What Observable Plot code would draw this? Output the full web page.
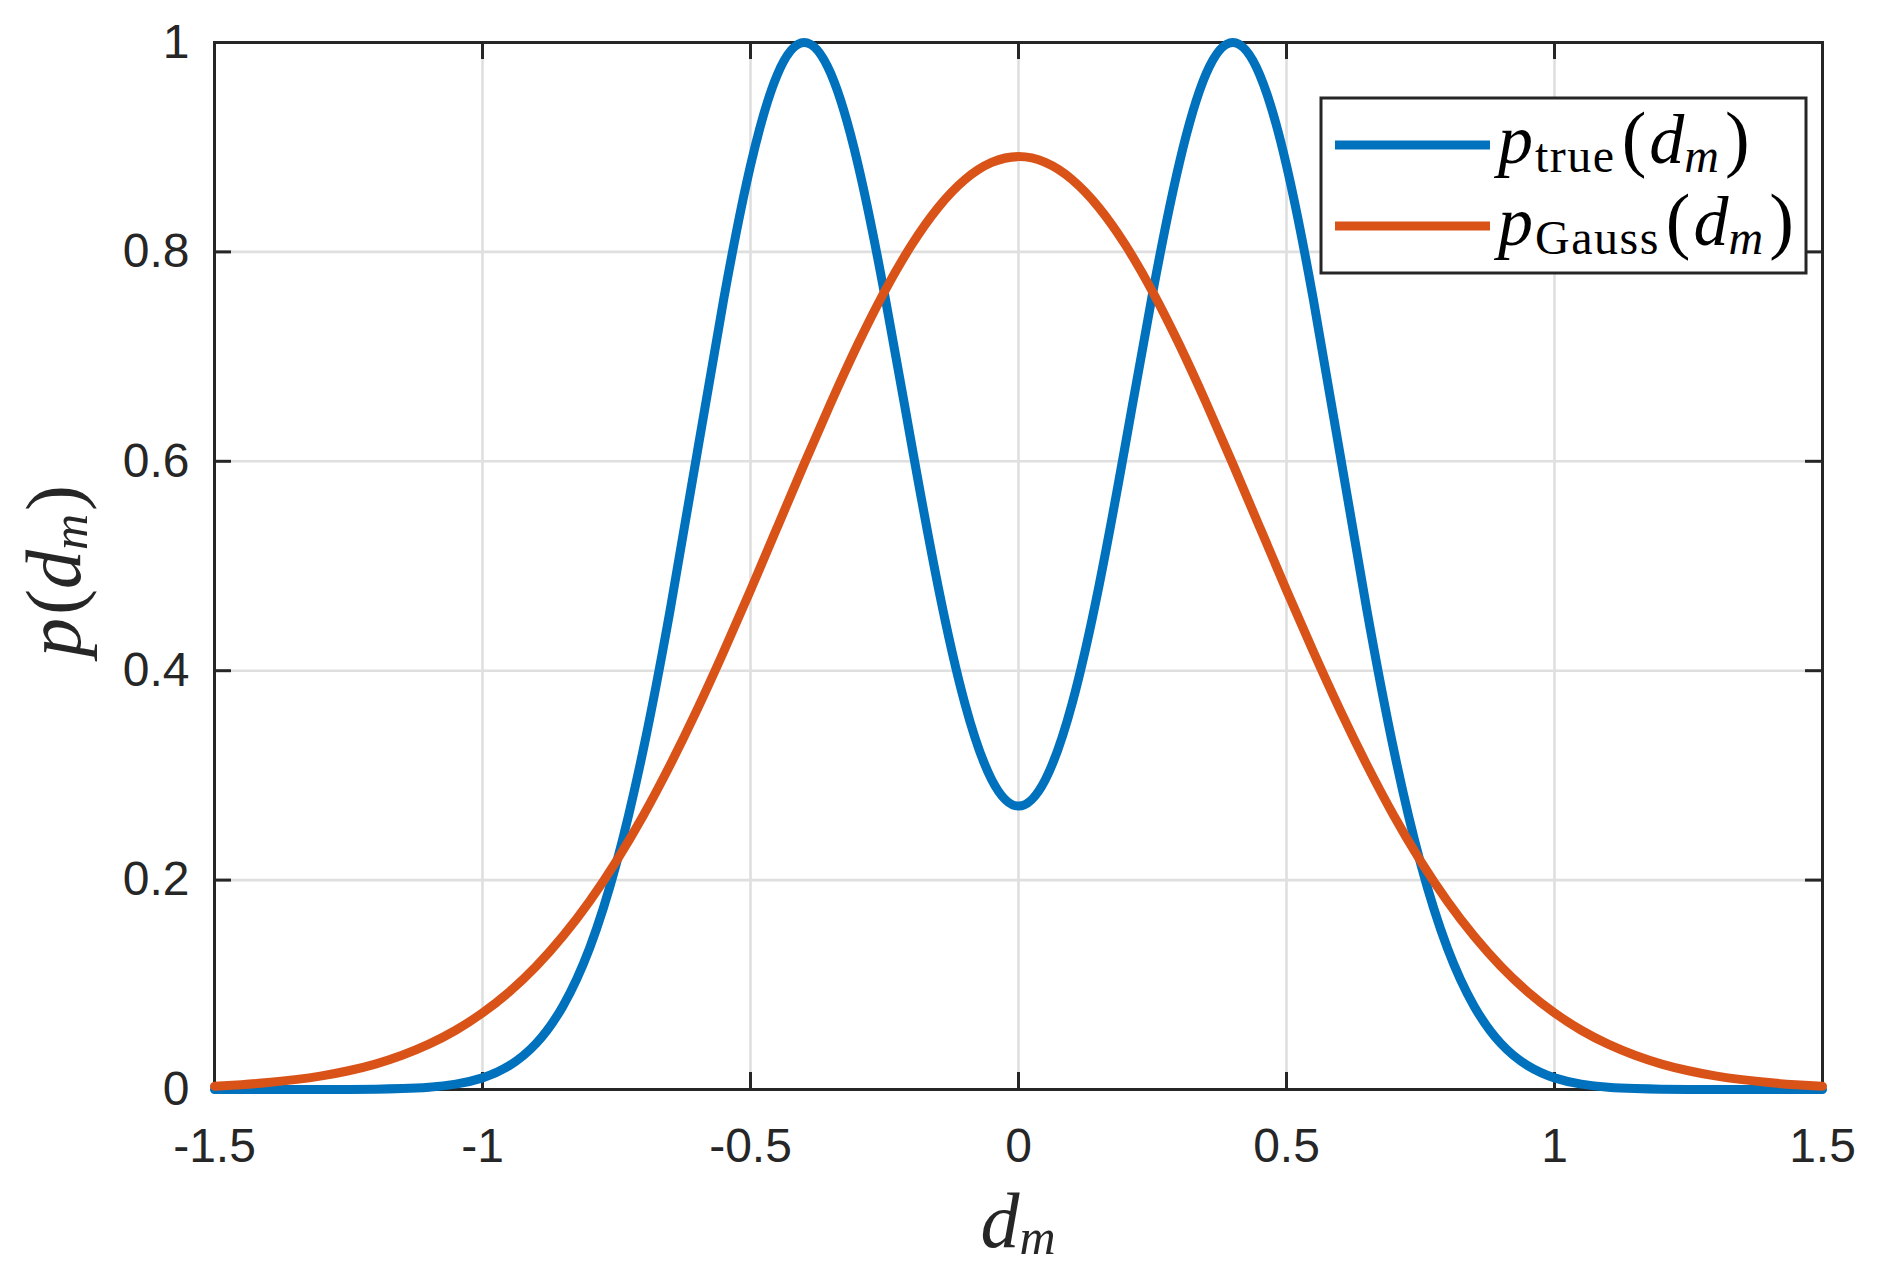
<!DOCTYPE html>
<html><head><meta charset="utf-8">
<script src="https://cdn.jsdelivr.net/npm/d3@7"></script>
<script src="https://cdn.jsdelivr.net/npm/@observablehq/plot@0.6"></script>
<style>
html,body{margin:0;padding:0;background:#fff;}
#chart{width:1882px;height:1282px;}
</style></head><body><div id="chart"></div>
<script>
const dm = [-1.5,-1.45,-1.4,-1.35,-1.3,-1.25,-1.2,-1.15,-1.1,-1.05,-1.0,-0.95,-0.9,-0.85,-0.8,-0.75,-0.7,-0.65,-0.6,-0.55,-0.5,-0.45,-0.4,-0.35,-0.3,-0.25,-0.2,-0.15,-0.1,-0.05,0,0.05,0.1,0.15,0.2,0.25,0.3,0.35,0.4,0.45,0.5,0.55,0.6,0.65,0.7,0.75,0.8,0.85,0.9,0.95,1.0,1.05,1.1,1.15,1.2,1.25,1.3,1.35,1.4,1.45,1.5];
const pTrue = [0,0,0,0,0,0.0001,0.0003,0.0009,0.0022,0.0051,0.0111,0.0228,0.0439,0.0796,0.1353,0.2163,0.3247,0.4578,0.6065,0.7548,0.8825,0.9693,1.0,0.9701,0.8847,0.7599,0.6176,0.4806,0.3686,0.2959,0.2707,0.2959,0.3686,0.4806,0.6176,0.7599,0.8847,0.9701,1.0,0.9693,0.8825,0.7548,0.6065,0.4578,0.3247,0.2163,0.1353,0.0796,0.0439,0.0228,0.0111,0.0051,0.0022,0.0009,0.0003,0.0001,0,0,0,0,0];
const pGauss = [0.0032,0.0046,0.0066,0.0094,0.0130,0.0179,0.0243,0.0327,0.0433,0.0566,0.0732,0.0933,0.1176,0.1464,0.1799,0.2184,0.2617,0.3099,0.3623,0.4183,0.4769,0.5371,0.5973,0.6559,0.7115,0.7621,0.8062,0.8423,0.8690,0.8854,0.891,0.8854,0.8690,0.8423,0.8062,0.7621,0.7115,0.6559,0.5973,0.5371,0.4769,0.4183,0.3623,0.3099,0.2617,0.2184,0.1799,0.1464,0.1176,0.0933,0.0732,0.0566,0.0433,0.0327,0.0243,0.0179,0.0130,0.0094,0.0066,0.0046,0.0032];
const xTicks = [-1.5,-1,-0.5,0,0.5,1,1.5];
const xTickLabels = ["-1.5","-1","-0.5","0","0.5","1","1.5"];
const yTicks = [0,0.2,0.4,0.6,0.8,1];
const yTickLabels = ["0","0.2","0.4","0.6","0.8","1"];
const seriesNames = ["true","Gauss"];
const seriesColors = ["#0072BD","#D95319"];

const rows = [
  ...dm.map((x,i)=>({x, y:pTrue[i], s:"true"})),
  ...dm.map((x,i)=>({x, y:pGauss[i], s:"Gauss"}))
];

const W=1882,H=1282,mL=214,mR=60,mT=42,mB=193;
const pw=W-mL-mR, ph=H-mT-mB;
const ink="#262626", gridC="#dfdfdf", TL=17;

const plot = Plot.plot({
  width:W, height:H, marginLeft:mL, marginRight:mR, marginTop:mT, marginBottom:mB,
  style:{fontFamily:"'Liberation Sans', Arial, sans-serif", background:"#fff", color:ink, overflow:"visible"},
  x:{domain:[-1.5,1.5]},
  y:{domain:[0,1]},
  color:{domain:seriesNames, range:seriesColors},
  marks:[
    Plot.gridX(xTicks,{stroke:gridC, strokeOpacity:1, strokeWidth:2.6}),
    Plot.gridY(yTicks,{stroke:gridC, strokeOpacity:1, strokeWidth:2.6}),
    Plot.ruleX(xTicks,{x:d=>d, insetTop:ph-TL, stroke:ink, strokeWidth:3}),
    Plot.ruleX(xTicks,{x:d=>d, insetBottom:ph-TL, stroke:ink, strokeWidth:3}),
    Plot.ruleY(yTicks,{y:d=>d, insetRight:pw-TL, stroke:ink, strokeWidth:3}),
    Plot.ruleY(yTicks,{y:d=>d, insetLeft:pw-TL, stroke:ink, strokeWidth:3}),
    Plot.frame({stroke:ink, strokeWidth:3}),
    Plot.axisX(xTicks,{tickSize:0, tickPadding:38, fontSize:48, fill:ink, label:null,
      tickFormat:d=>xTickLabels[xTicks.indexOf(d)]}),
    Plot.axisY(yTicks,{tickSize:0, tickPadding:25, fontSize:48, fill:ink, label:null,
      tickFormat:d=>yTickLabels[yTicks.indexOf(d)]}),
    Plot.line(rows,{x:"x", y:"y", stroke:"s", strokeWidth:9, curve:"natural"})
  ]
});
document.getElementById("chart").appendChild(plot);

const svg = d3.select(plot);
const serif = "'Liberation Serif', 'Times New Roman', serif";

// x label
const xl = svg.append("text").attr("x",1018).attr("y",1247).attr("text-anchor","middle")
  .attr("font-family",serif).attr("font-size",78).attr("fill",ink);
xl.append("tspan").attr("font-style","italic").text("d");
xl.append("tspan").attr("font-style","italic").attr("font-size",50).attr("dy",7).text("m");

// y label
const yl = svg.append("text").attr("transform","translate(80,571) rotate(-90)").attr("text-anchor","middle")
  .attr("font-family",serif).attr("font-size",78).attr("fill",ink);
yl.append("tspan").attr("font-style","italic").text("p");
yl.append("tspan").attr("dx",3).text("(");
yl.append("tspan").attr("font-style","italic").text("d");
yl.append("tspan").attr("font-style","italic").attr("font-size",50).attr("dy",7).text("m");
yl.append("tspan").attr("dy",-7).attr("dx",3).text(")");

// legend
const lg = svg.append("g");
lg.append("rect").attr("x",1321).attr("y",98).attr("width",485).attr("height",175)
  .attr("fill","#fff").attr("stroke",ink).attr("stroke-width",3);
const rowsY = [145,226], baseY=[163,245];
seriesNames.forEach((name,i)=>{
  lg.append("line").attr("x1",1335).attr("x2",1490).attr("y1",rowsY[i]).attr("y2",rowsY[i])
    .attr("stroke",seriesColors[i]).attr("stroke-width",9);
  const t = lg.append("text").attr("x",1498).attr("y",baseY[i]).attr("text-anchor","start")
    .attr("font-family",serif).attr("font-size",70).attr("fill","#000");
  t.append("tspan").attr("font-style","italic").text("p");
  t.append("tspan").attr("font-size",48).attr("dy",9).attr("dx",2).attr("letter-spacing",1.5).text(name);
  t.append("tspan").attr("dy",-9).attr("dx",6).attr("font-size",74).text("(");
  t.append("tspan").attr("font-style","italic").attr("dx",3).text("d");
  t.append("tspan").attr("font-style","italic").attr("font-size",48).attr("dy",9).text("m");
  t.append("tspan").attr("dy",-9).attr("dx",6).attr("font-size",74).text(")");
});
</script>
</body></html>
